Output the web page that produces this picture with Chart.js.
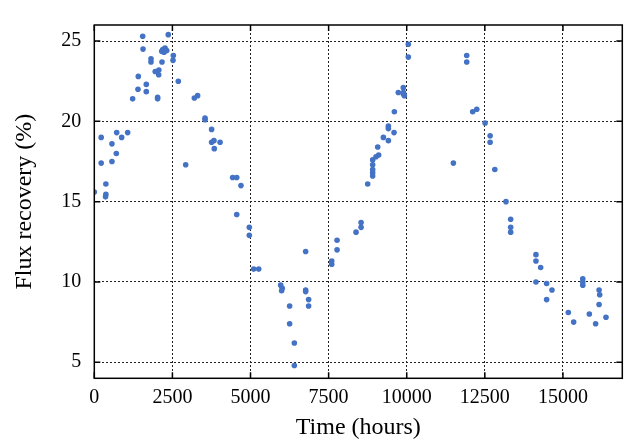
<!DOCTYPE html>
<html>
<head>
<meta charset="utf-8">
<script src="https://cdn.jsdelivr.net/npm/chart.js@4"></script>
<style>
  html, body { margin: 0; padding: 0; background: #fff; }
  #fluxChart { display: block; }
</style>
</head>
<body>
<canvas id="fluxChart" width="628" height="441"></canvas>
<script>
// medições: tempo (horas) e recuperação de fluxo (%)
const times = [
    0, 370, 360, 370, 220, 565, 705, 565, 220, 717, 876, 1068,
    1227, 1398, 1408, 1664, 1664, 2026, 2026, 1549, 2368, 1559,
    2190, 2264, 2318, 2158, 2232, 2529, 2519, 1815, 1815, 2167,
    2066, 1950, 2061, 2689, 3202, 3307, 3544, 3544, 3755, 3755,
    3830, 3840, 4026, 2925, 4428, 4559, 4694, 4559, 4961, 4961,
    5101, 5262, 5966, 6016, 5996, 6765, 6765, 6765, 6860, 6860,
    6252, 6252, 6403, 6403, 7599, 7599, 7770, 7770, 8378, 8539,
    8539, 8750, 8910, 8910, 8910, 8910, 8910, 9016, 9071, 9101,
    9252, 9413, 9413, 9413, 9594, 9604, 9730, 9890, 9890, 9925,
    9895, 10051, 10051, 11920, 11920, 12111, 12242, 12508, 12669, 12669,
    11493, 12820, 13177, 13327, 13327, 13327, 14136, 14136, 14287, 14136,
    14478, 14649, 14478, 15172, 15343, 15635, 15635, 15635, 15845, 16046,
    16157, 16177, 16157, 16378
];
const flux = [
    15.6, 15.45, 15.3, 16.1, 17.4, 17.5, 18.0, 18.6, 19.0, 19.3, 19.0, 19.3,
    21.4, 22.0, 22.8, 21.85, 22.3, 21.5, 21.4, 25.3, 25.4, 24.5,
    24.47, 24.56, 24.41, 24.36, 24.3, 24.1, 23.8, 23.9, 23.7, 23.7,
    23.2, 23.1, 22.9, 22.5, 21.45, 21.6, 20.2, 20.1, 19.5, 18.7,
    18.8, 18.3, 18.7, 17.3, 16.5, 16.5, 16.0, 14.2, 13.4, 12.9,
    10.8, 10.8, 9.8, 9.6, 9.45, 11.9, 9.5, 9.4, 8.9, 8.5,
    8.5, 7.4, 6.2, 4.8, 11.3, 11.1, 12.6, 12.0, 13.1, 13.7,
    13.4, 16.1, 17.6, 17.3, 17.0, 16.8, 16.6, 17.8, 18.4, 17.9,
    19.0, 18.8, 19.7, 19.55, 19.3, 20.6, 21.8, 22.1, 21.7, 21.6,
    21.8, 24.0, 24.8, 24.1, 23.7, 20.6, 20.75, 19.9, 19.1, 18.7,
    17.4, 17.0, 15.0, 13.9, 13.4, 13.1, 11.7, 11.3, 10.9, 10.0,
    9.9, 9.5, 8.9, 8.1, 7.5, 10.2, 10.0, 9.8, 8.0, 7.4,
    9.5, 9.2, 8.6, 7.8
];
const xTicks = [0, 2500, 5000, 7500, 10000, 12500, 15000];
const yTicks = [5, 10, 15, 20, 25];

const pontos = times.map((t, i) => ({ x: t, y: flux[i] }));

// moldura completa + marcas de escala voltadas para dentro
const molduraPlugin = {
    id: 'moldura',
    afterDraw(chart) {
        const { ctx, chartArea: a, scales } = chart;
        const tam = 6;
        ctx.save();
        ctx.strokeStyle = '#000';
        ctx.lineWidth = 1.5;
        ctx.strokeRect(a.left, a.top, a.right - a.left, a.bottom - a.top);
        ctx.beginPath();
        xTicks.forEach(v => {
            const px = scales.x.getPixelForValue(v);
            ctx.moveTo(px, a.bottom); ctx.lineTo(px, a.bottom - tam);
            ctx.moveTo(px, a.top); ctx.lineTo(px, a.top + tam);
        });
        yTicks.forEach(v => {
            const py = scales.y.getPixelForValue(v);
            ctx.moveTo(a.left, py); ctx.lineTo(a.left + tam, py);
            ctx.moveTo(a.right, py); ctx.lineTo(a.right - tam, py);
        });
        ctx.stroke();
        ctx.restore();
    }
};

const fonte = 'Liberation Serif, Times New Roman, serif';

new Chart(document.getElementById('fluxChart'), {
    type: 'scatter',
    data: {
        datasets: [{
            data: pontos,
            backgroundColor: '#4472c4',
            borderColor: '#4472c4',
            pointRadius: 2.8,
            pointBorderWidth: 0,
            pointHoverRadius: 2.8
        }]
    },
    options: {
        responsive: false,
        animation: false,
        layout: { padding: { top: 8, right: 5.7, left: 0, bottom: 0 } },
        plugins: {
            legend: { display: false },
            tooltip: { enabled: false }
        },
        scales: {
            x: {
                type: 'linear',
                min: 0,
                max: 16900,
                afterBuildTicks: s => { s.ticks = xTicks.map(v => ({ value: v })); },
                afterFit: s => { s.height = 62.7; },
                grid: { color: '#222', lineWidth: 1, drawTicks: false },
                border: { display: false, dash: [2, 2] },
                ticks: {
                    color: '#000',
                    padding: 7,
                    maxRotation: 0,
                    callback: v => String(v),
                    font: { family: fonte, size: 20 }
                },
                title: {
                    display: true,
                    text: 'Time (hours)',
                    color: '#000',
                    font: { family: fonte, size: 24, lineHeight: 1 },
                    padding: { top: 0, bottom: 1 }
                }
            },
            y: {
                min: 4,
                max: 26,
                afterBuildTicks: s => { s.ticks = yTicks.map(v => ({ value: v })); },
                afterFit: s => { s.width = 94.3; },
                grid: { color: '#222', lineWidth: 1, drawTicks: false },
                border: { display: false, dash: [2, 2] },
                ticks: {
                    color: '#000',
                    padding: 13,
                    callback: v => String(v),
                    font: { family: fonte, size: 20 }
                },
                title: {
                    display: true,
                    text: 'Flux recovery (%)',
                    color: '#000',
                    font: { family: fonte, size: 24, lineHeight: 1 },
                    padding: { top: 13, bottom: 0 }
                }
            }
        }
    },
    plugins: [molduraPlugin]
});
</script>
</body>
</html>
